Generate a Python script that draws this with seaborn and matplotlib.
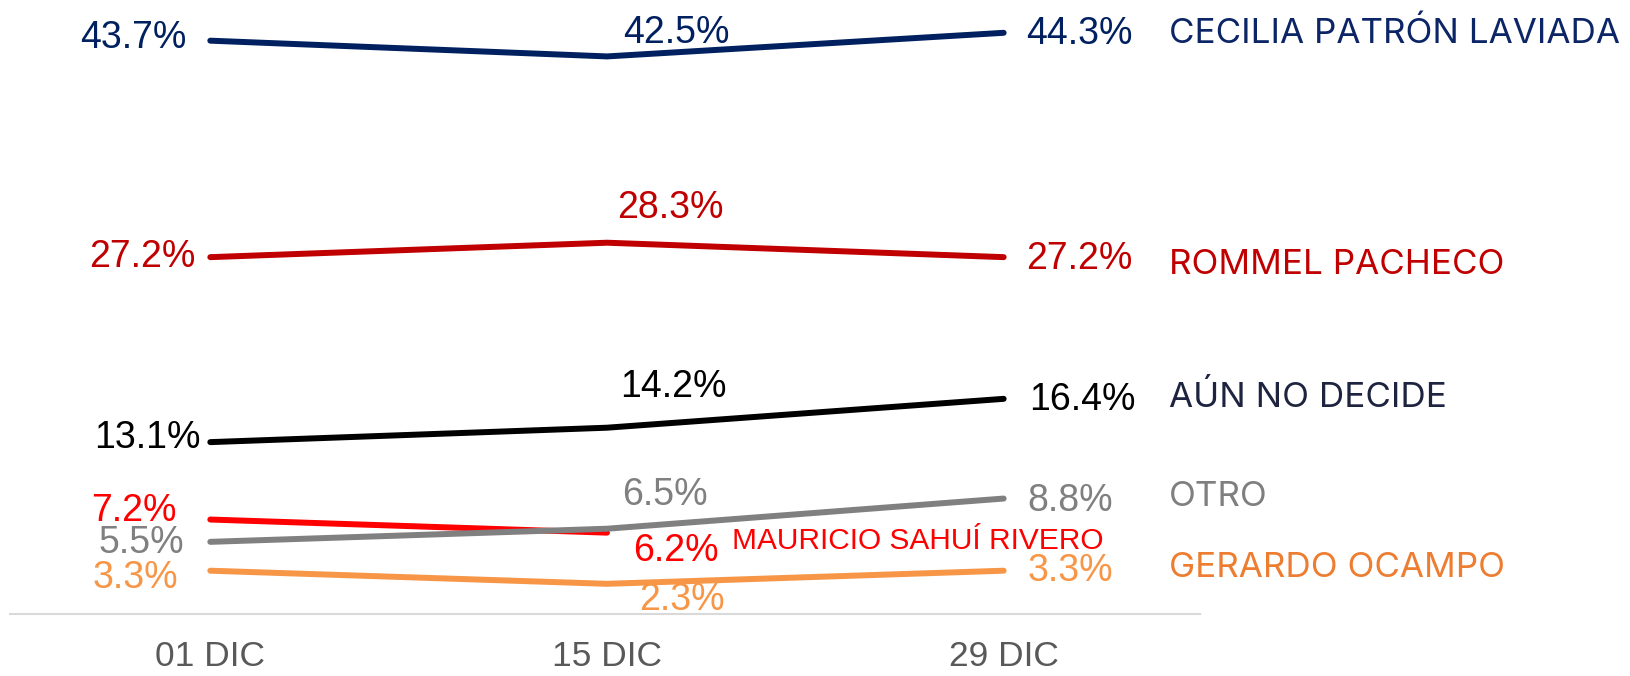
import pandas as pd
import matplotlib.pyplot as plt
import seaborn as sns

# data
fechas = ["01 DIC", "15 DIC", "29 DIC"]
cecilia = [43.7, 42.5, 44.3]
rommel = [27.2, 28.3, 27.2]
no_decide = [13.1, 14.2, 16.4]
mauricio = [7.2, 6.2]
otro = [5.5, 6.5, 8.8]
gerardo = [3.3, 2.3, 3.3]

nombres = ["CECILIA PATRÓN LAVIADA", "ROMMEL PACHECO", "AÚN NO DECIDE",
           "MAURICIO SAHUÍ RIVERO", "OTRO", "GERARDO OCAMPO"]
series = [cecilia, rommel, no_decide, mauricio, otro, gerardo]
colores_linea = ["#002060", "#C00000", "#000000", "#FF0000", "#808080", "#F79646"]
colores_texto = ["#002060", "#C00000", "#000000", "#FF0000", "#808080", "#F79646"]
colores_nombre = ["#0B2566", "#C00000", "#1E2440", "#FF0000", "#7F7F7F", "#ED7D31"]

rows = []
for nombre, vals in zip(nombres, series):
    for f, v in zip(fechas, vals):
        rows.append({"fecha": f, "valor": v, "candidato": nombre})
df = pd.DataFrame(rows)

sns.set_style("white")
plt.rcParams["font.family"] = ["Liberation Sans", "DejaVu Sans"]

fig = plt.figure(figsize=(16.3, 6.76), dpi=100)
ax = fig.add_axes([10 / 1630, 62 / 676, 1190 / 1630, 603.5 / 676])

sns.lineplot(data=df, x="fecha", y="valor", hue="candidato", hue_order=nombres,
             palette=dict(zip(nombres, colores_linea)), linewidth=4.3,
             sort=False, legend=False, ax=ax, solid_capstyle="round")

ax.set_xlim(-0.505, 2.495)
ax.set_ylim(0, 46)

# value label offsets (points): (dx, dy, ha) for each point
offsets = [
    [(-17, 2, "right"), (50, 17, "center"), (16, -1, "left")],
    [(-11, 0, "right"), (46, 25, "center"), (16, -1, "left")],
    [(-7, 3, "right"), (48, 29, "center"), (18, -1, "left")],
    [(-24, 6, "right"), (50, -13, "center")],
    [(-19, -1, "right"), (42, 24, "center"), (17, -2, "left")],
    [(-23, -5, "right"), (54, -12, "center"), (17, 0, "left")],
]
for vals, offs, col in zip(series, offsets, colores_texto):
    for i, (v, (dx, dy, ha)) in enumerate(zip(vals, offs)):
        ax.annotate(f"{v:.1f}%", xy=(i, v), xytext=(dx, dy), textcoords="offset points",
                    ha=ha, va="center", fontsize=27, color=col)

# candidate names
name_offs = [(119, -1), (119, -6), (119, 1), (90, -6), (119, 1), (119, 2)]
for nombre, vals, (dx, dy), col in zip(nombres, series, name_offs, colores_nombre):
    i = len(vals) - 1
    if nombre.startswith("MAURICIO"):
        ax.annotate(nombre, xy=(i, vals[i]), xytext=(dx, dy), textcoords="offset points",
                    ha="left", va="center", fontsize=21.5, color=col)
    else:
        ax.annotate(nombre, xy=(i, vals[i]), xytext=(dx, dy), textcoords="offset points",
                    ha="left", va="center", fontsize=25.2, color=col,
                    family=["Inter", "DejaVu Sans"])

ax.set_xlabel("")
ax.set_ylabel("")
ax.set_yticks([])
ax.tick_params(axis="x", length=0, pad=19, labelsize=25.5, labelcolor="#595959")
for s in ["top", "left", "right"]:
    ax.spines[s].set_visible(False)
ax.spines["bottom"].set_color("#D9D9D9")
ax.spines["bottom"].set_linewidth(1.5)

fig.savefig("out.png", dpi=100)
